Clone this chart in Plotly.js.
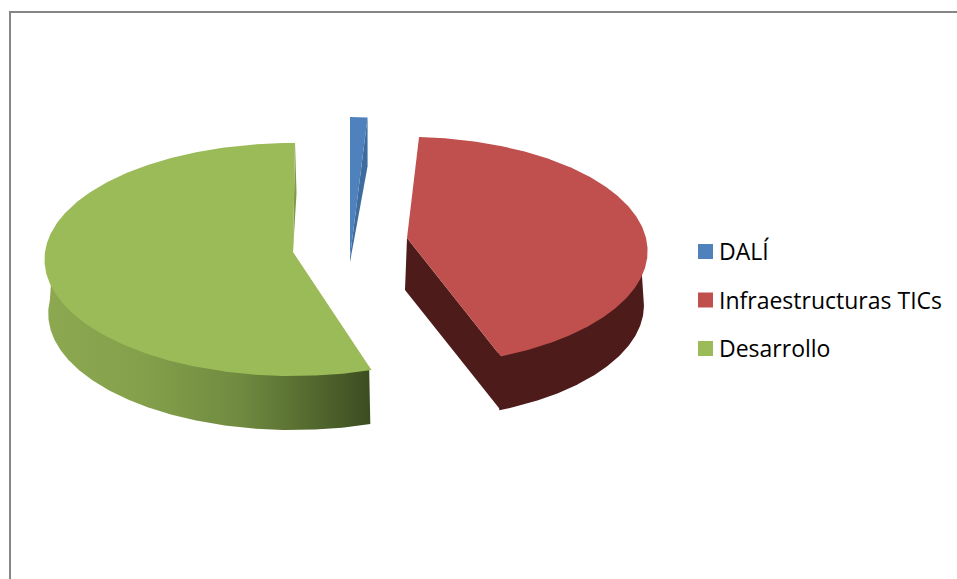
<!DOCTYPE html>
<html><head><meta charset="utf-8">
<script src="https://cdn.plot.ly/plotly-3.0.1.min.js"></script>
<style>html,body{margin:0;padding:0;background:#fff}#chart{width:957px;height:579px}</style>
</head><body><div id="chart"></div>
<script>
// Data
var categories = ["DALÍ", "Infraestructuras TICs", "Desarrollo"];
var values = [1.2, 43, 55.8];
var colors = ["#4f81bd", "#c0504d", "#9bbb59"];
var wallColors = ["#3f6c9e", "#4d1c1a", "#7f9a48"];

// Projection of each exploded slice (pixels of the 957x579 canvas)
var geometry = [
  {ax:350, ay:257, f:248, g:149, p:0.0644, depth:49, bx:350, by:262, trimStart:0,    trimEnd:0},
  {ax:407, ay:238, f:239, g:112.7, p:0.115, depth:54, bx:405, by:290, trimStart:-1.1, trimEnd:0.4},
  {ax:293, ay:252, f:248, g:116, p:0.0644, depth:54, bx:293, by:252, trimStart:3.6,  trimEnd:0.5}
];

function pt(g, deg) {
  var t = deg * Math.PI / 180, s = Math.sin(t), c = Math.cos(t), w = 1 + g.p * c;
  return [g.ax + g.f * s / w, g.ay - g.g * c / w];
}
function arc(g, a0, a1) {
  var out = [], n = Math.max(4, Math.ceil(Math.abs(a1 - a0) * 2));
  for (var i = 0; i <= n; i++) out.push(pt(g, a0 + (a1 - a0) * i / n));
  return out;
}
function low(g, q) { return [g.ax + (q[0] - g.ax) * 0.985, q[1] + g.depth]; }
function inner(g, q) { return [q[0] + (g.ax - q[0]) * 0.03, q[1] + (g.ay - q[1]) * 0.03]; }
function poly(points, color, extra) {
  var tr = {type:"scatter", mode:"lines", x:points.map(function(q){return q[0];}), y:points.map(function(q){return q[1];}),
    fill:"toself", fillcolor:color, line:{width:0}, hoverinfo:"skip", showlegend:false};
  for (var k in extra) tr[k] = extra[k];
  return tr;
}

var total = values.reduce(function(a,b){return a+b;},0), acc = 0, spans = [];
values.forEach(function(v,i){
  var a0 = acc / total * 360; acc += v; var a1 = acc / total * 360;
  spans.push([a0 + geometry[i].trimStart, a1 + geometry[i].trimEnd]);
});

var walls = [], tops = [];
// blue: wall on the right cut
(function(){
  var g = geometry[0], s = spans[0], o = pt(g, s[1]);
  walls.push(poly([o, [o[0], o[1] + g.depth], [g.bx, g.by], [g.ax, g.ay]], wallColors[0]));
})();
// red: cut wall and outer wall
(function(){
  var g = geometry[1], s = spans[1], e = pt(g, s[1]);
  walls.push(poly([[g.ax,g.ay],[g.bx,g.by],[e[0],e[1]+g.depth],e], wallColors[1]));
  var top = arc(g, s[1], 97);
  walls.push(poly(top.map(function(q){return inner(g,q);}).concat(top.slice().reverse().map(function(q){return low(g,q);})), wallColors[1]));
})();
// green: thin cut wall and shaded outer wall
(function(){
  var g = geometry[2], s = spans[2], o = pt(g, s[1]);
  walls.push(poly([o, [o[0] + 1.5, o[1] + 50], [g.bx, g.by]], wallColors[2]));
  var top = arc(g, s[0], 273);
  walls.push(poly(top.map(function(q){return inner(g,q);}).concat(top.slice().reverse().map(function(q){return low(g,q);})), "#7f9a48", {
    fillgradient:{type:"horizontal", start:45, stop:371, colorscale:[
      [0,"#8ca850"],[0.3,"#84a04b"],[0.6,"#708a40"],[0.8,"#566c30"],[1,"#3c4c20"]]}
  }));
})();
geometry.forEach(function(g,i){
  var pts = arc(g, spans[i][0], spans[i][1]);
  pts.push([g.ax, g.ay]);
  tops.push(poly(pts, colors[i], {name:categories[i]}));
});

// legend entries
var legendY = [251.5, 300, 348.5];
var legendMarks = categories.map(function(c,i){
  return {type:"scatter", mode:"markers", x:[705.5], y:[legendY[i]],
    marker:{symbol:"square", size:15, color:colors[i]}, hoverinfo:"skip", showlegend:false, name:c};
});
var legendTexts = categories.map(function(c,i){
  return {type:"scatter", mode:"text", x:[719], y:[legendY[i] + 3], text:[c], textposition:"middle right",
    textfont:{family:"Open Sans, sans-serif", size:23, color:"#000"}, hoverinfo:"skip", showlegend:false, cliponaxis:false, name:c};
});

Plotly.newPlot("chart", walls.concat(tops, legendMarks, legendTexts), {
  width:957, height:579, margin:{l:0,r:0,t:0,b:0}, paper_bgcolor:"#fff", plot_bgcolor:"#fff", showlegend:false,
  xaxis:{range:[0,957], visible:false, fixedrange:true},
  yaxis:{range:[579,0], visible:false, fixedrange:true},
  shapes:[
    {type:"line", xref:"x", yref:"y", x0:10, x1:957, y0:12, y1:12, line:{color:"#868686", width:2}},
    {type:"line", xref:"x", yref:"y", x0:10, x1:10, y0:11, y1:579, line:{color:"#868686", width:2}}
  ]
}, {displayModeBar:false, staticPlot:true});
</script></body></html>
